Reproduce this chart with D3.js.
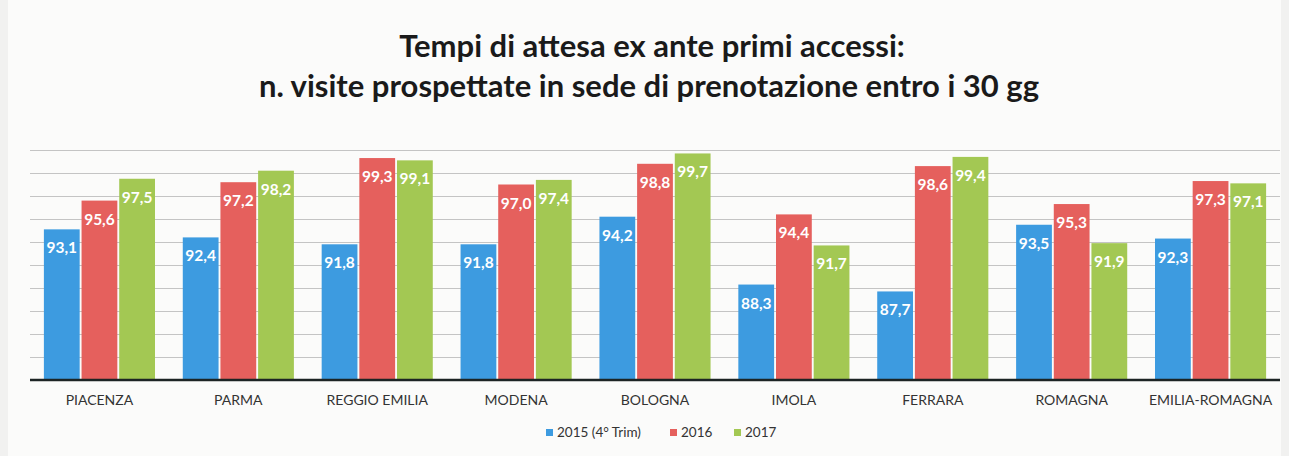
<!DOCTYPE html>
<html>
<head>
<meta charset="utf-8">
<script src="https://cdn.jsdelivr.net/npm/d3@7"></script>
<style>
  body { margin: 0; background: #f1f1f0; }
  svg { display: block; }
</style>
</head>
<body>
<svg></svg>
<script>
const width = 1289;
const height = 456;

const categories = ['PIACENZA', 'PARMA', 'REGGIO EMILIA', 'MODENA', 'BOLOGNA', 'IMOLA', 'FERRARA', 'ROMAGNA', 'EMILIA-ROMAGNA'];
const seriesNames = ['2015 (4° Trim)', '2016', '2017'];
const values2015 = [93.1, 92.4, 91.8, 91.8, 94.2, 88.3, 87.7, 93.5, 92.3];
const values2016 = [95.6, 97.2, 99.3, 97.0, 98.8, 94.4, 98.6, 95.3, 97.3];
const values2017 = [97.5, 98.2, 99.1, 97.4, 99.7, 91.7, 99.4, 91.9, 97.1];
const yTicks = [82, 84, 86, 88, 90, 92, 94, 96, 98, 100];

const colors = ['#3d9be0', '#e5605d', '#a3c853'];
const series = [values2015, values2016, values2017];

const svg = d3.select('svg').attr('width', width).attr('height', height);

// sheet background
svg.append('rect')
    .attr('x', 8).attr('y', 0)
    .attr('width', width - 16).attr('height', height)
    .attr('fill', '#fbfbfa');

const plotLeft = 30, plotRight = 1280, plotTop = 150, plotBottom = 380;

const x = d3.scaleBand()
    .domain(categories)
    .range([plotLeft, plotRight])
    .paddingInner(0.2)
    .paddingOuter(0.1);

const x1 = d3.scaleBand()
    .domain(d3.range(seriesNames.length))
    .range([0, x.bandwidth()])
    .paddingInner(0.05);

const y = d3.scaleLinear()
    .domain([80, 100])
    .range([plotBottom, plotTop]);

// title
svg.append('text')
    .attr('x', 652).attr('y', 57)
    .attr('text-anchor', 'middle')
    .attr('font-family', 'Lato, sans-serif')
    .attr('font-weight', 'bold')
    .attr('font-size', 31)
    .attr('fill', '#1a1a1a')
    .text('Tempi di attesa ex ante primi accessi:');
svg.append('text')
    .attr('x', 649).attr('y', 97)
    .attr('text-anchor', 'middle')
    .attr('font-family', 'Lato, sans-serif')
    .attr('font-weight', 'bold')
    .attr('font-size', 31)
    .attr('fill', '#1a1a1a')
    .text('n. visite prospettate in sede di prenotazione entro i 30 gg');

// gridlines
svg.append('g')
    .selectAll('line').data(yTicks)
    .enter().append('line')
    .attr('x1', plotLeft).attr('x2', plotRight)
    .attr('y1', d => Math.round(y(d)) + 0.5)
    .attr('y2', d => Math.round(y(d)) + 0.5)
    .attr('stroke', '#c4c4c4')
    .attr('stroke-width', 1);

// bars
const groups = svg.append('g')
    .selectAll('g').data(categories)
    .enter().append('g')
    .attr('transform', d => `translate(${x(d)},0)`);

const fmt = v => d3.format('.1f')(v).replace('.', ',');

groups.selectAll('rect')
    .data((d, i) => series.map((s, k) => ({ k: k, v: s[i] })))
    .enter().append('rect')
    .attr('x', d => x1(d.k))
    .attr('y', d => y(d.v))
    .attr('width', x1.bandwidth())
    .attr('height', d => y(80) - y(d.v))
    .attr('fill', d => colors[d.k]);

groups.selectAll('text')
    .data((d, i) => series.map((s, k) => ({ k: k, v: s[i] })))
    .enter().append('text')
    .attr('x', d => x1(d.k) + x1.bandwidth() / 2)
    .attr('y', d => y(d.v) + 24)
    .attr('text-anchor', 'middle')
    .attr('font-family', 'Lato, sans-serif')
    .attr('font-weight', 'bold')
    .attr('font-size', 15.5)
    .attr('fill', '#ffffff')
    .text(d => fmt(d.v));

// baseline
svg.append('line')
    .attr('x1', plotLeft).attr('x2', plotRight)
    .attr('y1', y(80)).attr('y2', y(80))
    .attr('stroke', '#1c2424')
    .attr('stroke-width', 2.5);

// category axis
svg.append('g')
    .selectAll('text').data(categories)
    .enter().append('text')
    .attr('x', d => x(d) + x.bandwidth() / 2)
    .attr('y', 405)
    .attr('text-anchor', 'middle')
    .attr('font-family', 'Lato, sans-serif')
    .attr('font-size', 14)
    .attr('fill', '#333')
    .text(d => d);

// legend
const legendX = [546, 670, 734];
const legend = svg.append('g')
    .selectAll('g').data(seriesNames)
    .enter().append('g')
    .attr('transform', (d, i) => `translate(${legendX[i]}, 437)`);
legend.append('rect')
    .attr('x', 0).attr('y', -8)
    .attr('width', 7).attr('height', 7)
    .attr('fill', (d, i) => colors[i]);
legend.append('text')
    .attr('x', 11)
    .attr('y', 0)
    .attr('font-family', 'Lato, sans-serif')
    .attr('font-size', 13.5)
    .attr('fill', '#333')
    .text(d => d);
</script>
</body>
</html>
